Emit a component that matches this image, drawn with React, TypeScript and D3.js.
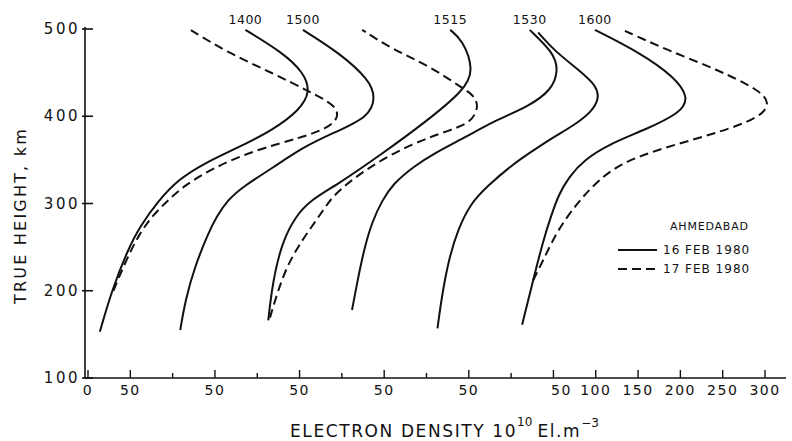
import * as d3 from 'd3'

const W = 792
const H = 441

const yTicks = [100, 200, 300, 400, 500]
const xTickValues = [0, 50, 100, 150, 200, 250, 300, 350, 400, 450, 500, 550, 600, 650, 700, 750, 800]
const xTickLabels = ['0', '50', '', '50', '', '50', '', '50', '', '50', '', '50', '100', '150', '200', '250', '300']

// each profile is drawn from its own origin along the shared density axis
const profileOffsets = [0, 100, 200, 300, 400, 500]
const profileTimes = ['1400', '1500', '1515', '1530', '', '1600']

// [true height km, electron density 1e10 el/m3 above the profile origin]
const feb16_p0: [number, number][] = [[153, 14], [200, 28], [247, 47], [275, 62], [304, 84], [327, 106], [346, 137], [364, 177], [384, 218], [407, 250], [428, 263], [450, 255], [473, 230], [499, 186]]
const feb17_p0: [number, number][] = [[200, 30], [235, 45], [266, 61], [287, 77], [304, 95], [320, 113], [342, 150], [362, 200], [375, 250], [386, 283], [399, 297], [413, 292], [428, 262], [450, 217], [473, 165], [499, 121]]
const feb16_p1: [number, number][] = [[155, 9], [189, 15], [227, 26], [266, 42], [285, 52], [304, 65], [320, 84], [340, 117], [364, 153], [381, 190], [399, 232], [422, 240], [442, 232], [472, 198], [499, 154]]
const feb16_p2: [number, number][] = [[166, 13], [209, 18], [255, 29], [285, 45], [304, 63], [323, 97], [358, 149], [392, 197], [430, 245], [453, 256], [487, 243], [499, 228]]
const feb17_p2: [number, number][] = [[169, 15], [189, 21], [227, 34], [258, 53], [281, 70], [300, 83], [315, 96], [342, 132], [369, 183], [384, 228], [393, 253], [411, 262], [424, 256], [432, 243], [459, 201], [476, 161], [499, 124]]
const feb16_p3: [number, number][] = [[178, 12], [209, 18], [247, 26], [280, 36], [304, 48], [322, 60], [342, 84], [358, 110], [376, 146], [396, 183], [411, 220], [430, 248], [453, 256], [473, 250], [499, 222]]
const feb16_p4: [number, number][] = [[157, 13], [193, 18], [235, 26], [270, 37], [300, 52], [320, 72], [345, 102], [360, 125], [375, 148], [390, 175], [405, 195], [420, 204], [435, 201], [453, 180], [476, 150], [496, 132]]
const feb16_p5: [number, number][] = [[161, 13], [212, 26], [258, 38], [285, 47], [310, 56], [330, 68], [350, 86], [369, 118], [384, 157], [404, 201], [422, 210], [445, 193], [473, 152], [499, 99]]
const feb17_p5: [number, number][] = [[212, 26], [235, 38], [270, 55], [300, 78], [320, 96], [346, 127], [365, 184], [381, 244], [399, 296], [416, 306], [430, 293], [453, 245], [476, 184], [499, 132]]

const curves = [
  { data: feb16_p0, profile: 0, dashed: false },
  { data: feb17_p0, profile: 0, dashed: true },
  { data: feb16_p1, profile: 1, dashed: false },
  { data: feb16_p2, profile: 2, dashed: false },
  { data: feb17_p2, profile: 2, dashed: true },
  { data: feb16_p3, profile: 3, dashed: false },
  { data: feb16_p4, profile: 4, dashed: false },
  { data: feb16_p5, profile: 5, dashed: false },
  { data: feb17_p5, profile: 5, dashed: true },
]

const font = '"DejaVu Sans", sans-serif'

export default function App() {
  const x = d3.scaleLinear([0, 800], [88, 765])
  const y = d3.scaleLinear([100, 500], [378, 29])
  const axisX = 85

  const line = (off: number) =>
    d3
      .line<[number, number]>()
      .x((d) => x(off + d[1]))
      .y((d) => y(d[0]))
      .curve(d3.curveBasis)

  return (
    <svg
      width={W}
      height={H}
      style={{ position: 'absolute', left: 0, top: 0, background: '#fff' }}
      fontFamily={font}
      fill="#111"
    >
      {/* y axis */}
      <line x1={axisX} x2={axisX} y1={y(100)} y2={y(500) - 2} stroke="#111" strokeWidth={1.6} />
      {yTicks.map((t) => (
        <g key={t}>
          <line x1={axisX - 3} x2={axisX + 8} y1={y(t)} y2={y(t)} stroke="#111" strokeWidth={1.6} />
          <text x={80} y={y(t) + 5} textAnchor="end" fontSize={15} letterSpacing={2.5}>
            {t}
          </text>
        </g>
      ))}
      <text
        transform={`translate(26,${y(300) + 12}) rotate(-90)`}
        textAnchor="middle"
        fontSize={16}
        letterSpacing={2.2}
      >
        TRUE HEIGHT, km
      </text>

      {/* x axis */}
      <line x1={axisX} x2={786} y1={y(100)} y2={y(100)} stroke="#111" strokeWidth={1.6} />
      {xTickValues.map((v, i) => (
        <g key={v}>
          <line
            x1={x(v)}
            x2={x(v)}
            y1={y(100)}
            y2={y(100) - (xTickLabels[i] ? 8 : 5)}
            stroke="#111"
            strokeWidth={1.4}
          />
          {xTickLabels[i] && (
            <text x={x(v) + (i === 11 ? 8 : 0)} y={395} textAnchor="middle" fontSize={14} letterSpacing={1.5}>
              {xTickLabels[i]}
            </text>
          )}
        </g>
      ))}
      <text x={290} y={437} fontSize={17} letterSpacing={1.6}>
        ELECTRON DENSITY 10
        <tspan dy={-11} fontSize={12} letterSpacing={0}>10</tspan>
        <tspan dx={5} dy={11}>El.m</tspan>
        <tspan dy={-10} fontSize={12} letterSpacing={0}>−3</tspan>
      </text>

      {/* profiles */}
      {curves.map((c, i) => (
        <path
          key={i}
          d={line(profileOffsets[c.profile])(c.data) || undefined}
          fill="none"
          stroke="#111"
          strokeWidth={2}
          strokeDasharray={c.dashed ? '9,5' : undefined}
        />
      ))}
      {curves
        .filter((c) => !c.dashed && profileTimes[c.profile])
        .map((c) => {
          const top = c.data[c.data.length - 1]
          return (
            <text
              key={c.profile}
              x={x(profileOffsets[c.profile] + top[1])}
              y={24}
              textAnchor="middle"
              fontSize={12.5}
              letterSpacing={0.5}
            >
              {profileTimes[c.profile]}
            </text>
          )
        })}

      {/* legend */}
      <text x={670} y={230} fontSize={11} letterSpacing={0.8}>
        AHMEDABAD
      </text>
      <line x1={618} x2={657} y1={250} y2={250} stroke="#111" strokeWidth={2} />
      <text x={663} y={254} fontSize={12} letterSpacing={1}>
        16 FEB 1980
      </text>
      <line x1={618} x2={657} y1={269} y2={269} stroke="#111" strokeWidth={2} strokeDasharray="9,5" />
      <text x={663} y={273} fontSize={12} letterSpacing={1}>
        17 FEB 1980
      </text>
    </svg>
  )
}
